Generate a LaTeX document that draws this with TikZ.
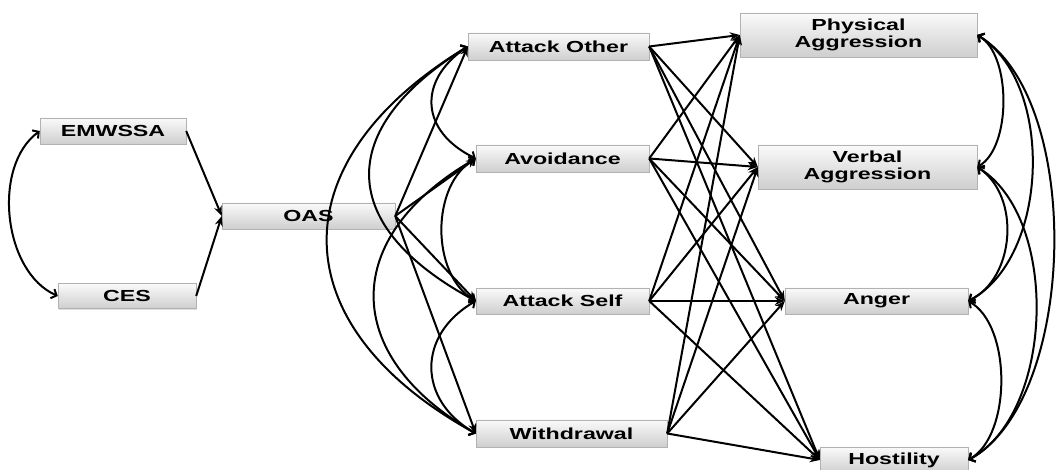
\documentclass[tikz,border=0pt]{standalone}
\usepackage{fontspec}
\setmainfont{Liberation Sans}
\usepackage{graphicx}
\usetikzlibrary{arrows.meta,shadows}
\newcommand{\sx}[1]{\scalebox{1.45}[1]{#1}}
\begin{document}
\begin{tikzpicture}[x=1pt,y=1pt,
  box/.style={draw=gray!60, top color=gray!4, bottom color=gray!38, inner sep=0pt,
    font=\fontsize{16}{16.5}\selectfont\bfseries, align=center,
    drop shadow={shadow xshift=1pt,shadow yshift=-1.2pt,opacity=0.25}},
  reg/.style={-{Stealth[length=10pt,width=8pt]}, line width=2pt},
  cov/.style={{Straight Barb[length=4.5pt,width=10pt]}-{Straight Barb[length=4.5pt,width=10pt]}, line width=2pt},
]
\useasboundingbox (0,0) rectangle (1056,470);
% predictors
\node[box, minimum width=146pt, minimum height=26pt] (em) at (113,339) {\sx{EMWSSA}};
\node[box, minimum width=138pt, minimum height=25pt] (ces) at (127,174) {\sx{CES}};
\node[box, minimum width=173pt, minimum height=26pt] (oas) at (308.5,254) {\sx{OAS}};
% mediators
\node[box, minimum width=181pt, minimum height=27pt] (ao) at (558.5,423.5) {\sx{Attack Other}};
\node[box, minimum width=173pt, minimum height=27pt] (av) at (562.5,311.5) {\sx{Avoidance}};
\node[box, minimum width=173pt, minimum height=26pt] (as) at (562.5,169) {\sx{Attack Self}};
\node[box, minimum width=191pt, minimum height=27pt] (wd) at (571.5,36.5) {\sx{Withdrawal}};
% outcomes
\node[box, minimum width=237pt, minimum height=44pt] (pa) at (858.5,435) {\sx{Physical}\\\sx{Aggression}};
\node[box, minimum width=219pt, minimum height=44pt] (va) at (867.5,303) {\sx{Verbal}\\\sx{Aggression}};
\node[box, minimum width=183pt, minimum height=26pt] (an) at (876.5,169) {\sx{Anger}};
\node[box, minimum width=148pt, minimum height=26pt] (ho) at (894,10) {\sx{Hostility}};
% regressions
\draw[reg] (em.east) -- (oas.west);
\draw[reg] (ces.east) -- (oas.west);
\foreach \m in {ao,av,as,wd} \draw[reg] (oas.east) -- (\m.west);
\foreach \m in {ao,av,as,wd} \foreach \o in {pa,va,an,ho} \draw[reg] (\m.east) -- (\o.west);
% covariances left
\draw[cov] (em.west) to[bend right=60, looseness=0.92] (ces.west);
\draw[cov] (ao.west) to[bend right=60, looseness=1.40] (av.west);
\draw[cov] (av.west) to[bend right=60, looseness=0.94] (as.west);
\draw[cov] (as.west) to[bend right=60, looseness=1.31] (wd.west);
\draw[cov] (ao.west) to[bend right=60, looseness=1.58] (as.west);
\draw[cov] (av.west) to[bend right=60, looseness=1.46] (wd.west);
\draw[cov] (ao.west) to[bend right=60, looseness=1.47] (wd.west);
% covariances right
\draw[cov] (pa.east) to[bend left=60, looseness=0.77] (va.east);
\draw[cov] (va.east) to[bend left=60, looseness=1.00] (an.east);
\draw[cov] (an.east) to[bend left=60, looseness=0.81] (ho.east);
\draw[cov] (pa.east) to[bend left=60, looseness=0.88] (an.east);
\draw[cov] (va.east) to[bend left=60, looseness=0.85] (ho.east);
\draw[cov] (pa.east) to[bend left=60, looseness=0.75] (ho.east);
\end{tikzpicture}
\end{document}
